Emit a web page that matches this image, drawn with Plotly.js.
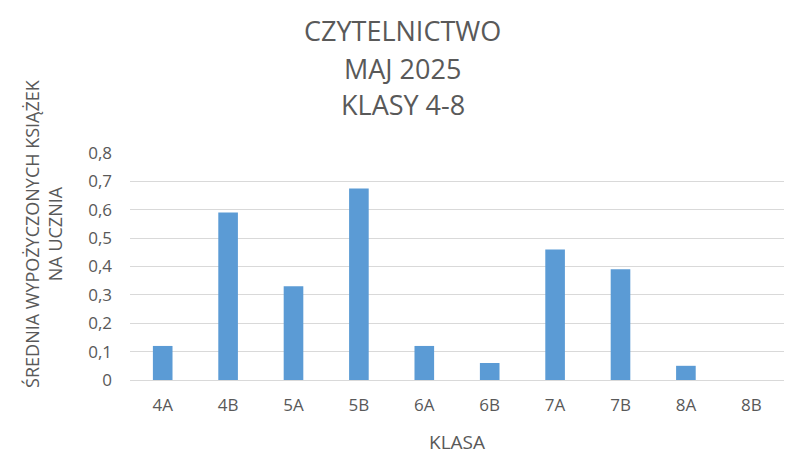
<!DOCTYPE html>
<html>
<head>
<meta charset="utf-8">
<script src="https://cdn.plot.ly/plotly-3.0.1.min.js"></script>
<style>html,body{margin:0;padding:0;background:#fff;}#chart{width:800px;height:463px;}</style>
</head>
<body>
<div id="chart"></div>
<script>
const categories = ["4A","4B","5A","5B","6A","6B","7A","7B","8A","8B"];
const values = [0.12, 0.59, 0.33, 0.675, 0.12, 0.06, 0.46, 0.39, 0.05, 0];
const yTicks = [0, 0.1, 0.2, 0.3, 0.4, 0.5, 0.6, 0.7, 0.8];
const yTickLabels = ["0","0,1","0,2","0,3","0,4","0,5","0,6","0,7","0,8"];
const titleLines = ["CZYTELNICTWO","MAJ 2025","KLASY 4-8"];
const xTitle = "KLASA";
const yTitleLines = ["ŚREDNIA WYPOŻYCZONYCH KSIĄŻEK","NA UCZNIA"];

const FONT = "Open Sans, Calibri, sans-serif";
const GREY = "#595959";

const data = [{
  type: "bar",
  x: categories,
  y: values,
  marker: {color: "#5b9bd5"},
  hoverinfo: "x+y"
}];

const titleY = [1.54, 1.374, 1.213];
const annotations = titleLines.map((t, i) => ({
  text: t,
  xref: "paper", yref: "paper",
  x: 0.4174, y: titleY[i],
  xanchor: "center", yanchor: "middle",
  showarrow: false,
  font: {family: FONT, size: 27, color: GREY}
}));
annotations.push({
  text: yTitleLines.join("<br>"),
  xref: "paper", yref: "paper",
  x: -0.1315, y: 0.648,
  xanchor: "center", yanchor: "middle",
  textangle: -90,
  showarrow: false,
  font: {family: FONT, size: 18, color: GREY}
});

const layout = {
  width: 800, height: 463,
  margin: {l: 130, r: 16, t: 153, b: 83},
  paper_bgcolor: "#ffffff",
  plot_bgcolor: "#ffffff",
  showlegend: false,
  bargap: 0.7,
  font: {family: FONT, color: GREY},
  xaxis: {
    type: "category",
    tickfont: {size: 17, color: GREY},
    showgrid: false,
    showline: true, linecolor: "#d9d9d9", linewidth: 1,
    ticks: "", ticklabelstandoff: 10,
    title: {text: xTitle, font: {size: 19, color: GREY}, standoff: 20}
  },
  yaxis: {
    range: [0, 0.8],
    tickvals: yTicks,
    ticktext: yTickLabels,
    tickfont: {size: 17, color: GREY},
    showgrid: true, gridcolor: "#d9d9d9", gridwidth: 1,
    zeroline: false, showline: false,
    ticks: "", ticklabelstandoff: 17
  },
  annotations: annotations
};

Plotly.newPlot("chart", data, layout, {displayModeBar: false, staticPlot: true});
</script>
</body>
</html>
